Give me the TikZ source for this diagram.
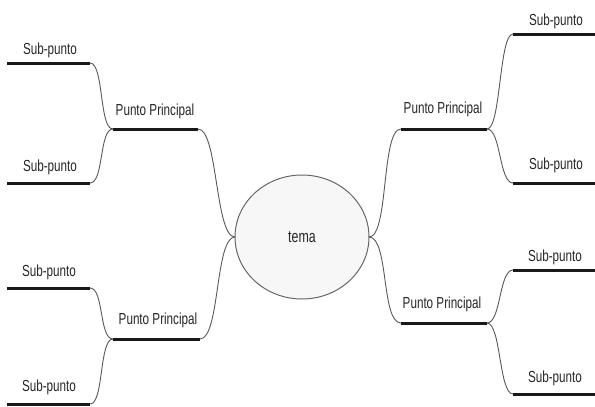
\documentclass[tikz,border=0pt]{standalone}
\usepackage{fontspec}
\setmainfont[FakeStretch=0.73]{Liberation Sans}
\usetikzlibrary{shapes.geometric}
\begin{document}
\begin{tikzpicture}[x=1pt,y=-1pt,
  lbl/.style={text=black!85,font=\fontsize{16}{18}\selectfont,inner sep=0pt},
  bar/.style={line width=3pt,black!90},
  conn/.style={line width=0.9pt,black!65},
  topic/.style={ellipse,draw=black!60,line width=1pt,fill=black!3,minimum width=134pt,minimum height=124pt,inner sep=0pt,font=\fontsize{17}{18}\selectfont,text=black!85}]
\useasboundingbox (0,0) rectangle (595,407);
% centre
\node[topic] (tema) at (302,237) {tema};
\coordinate (tL) at (235,237);
\coordinate (tR) at (369,237);
% left top
\coordinate (LTa) at (113,129); \coordinate (LTb) at (198,129);
\coordinate (LT1a) at (7,63);   \coordinate (LT1b) at (90,63);
\coordinate (LT2a) at (7,183);  \coordinate (LT2b) at (90,183);
% left bottom
\coordinate (LBa) at (113,339); \coordinate (LBb) at (200,339);
\coordinate (LB1a) at (7,288);  \coordinate (LB1b) at (90,288);
\coordinate (LB2a) at (7,404);  \coordinate (LB2b) at (90,404);
% right top
\coordinate (RTa) at (401,129); \coordinate (RTb) at (487,129);
\coordinate (RT1a) at (513,34); \coordinate (RT1b) at (595,34);
\coordinate (RT2a) at (513,183);\coordinate (RT2b) at (595,183);
% right bottom
\coordinate (RBa) at (401,323); \coordinate (RBb) at (487,323);
\coordinate (RB1a) at (513,270);\coordinate (RB1b) at (595,270);
\coordinate (RB2a) at (513,394);\coordinate (RB2b) at (595,394);
% bars
\foreach \a/\b in {LTa/LTb,LT1a/LT1b,LT2a/LT2b,LBa/LBb,LB1a/LB1b,LB2a/LB2b,RTa/RTb,RT1a/RT1b,RT2a/RT2b,RBa/RBb,RB1a/RB1b,RB2a/RB2b}
  \draw[bar] (\a) -- (\b);
% labels
\node[lbl] (lt)  at (155,111) {Punto Principal};
\node[lbl] (lt1) at (50,50)   {Sub-punto};
\node[lbl] (lt2) at (50,167)  {Sub-punto};
\node[lbl] (lb)  at (158,320) {Punto Principal};
\node[lbl] (lb1) at (49,272)  {Sub-punto};
\node[lbl] (lb2) at (49,387)  {Sub-punto};
\node[lbl] (rt)  at (443,109) {Punto Principal};
\node[lbl] (rt1) at (556,21)  {Sub-punto};
\node[lbl] (rt2) at (556,165) {Sub-punto};
\node[lbl] (rb)  at (442,304) {Punto Principal};
\node[lbl] (rb1) at (555,257) {Sub-punto};
\node[lbl] (rb2) at (555,378) {Sub-punto};
% connectors
\draw[conn] (tL) .. controls +(-20,0) and +(20,0) .. (LTb);
\draw[conn] (tL) .. controls +(-20,0) and +(20,0) .. (LBb);
\draw[conn] (tR) .. controls +(20,0) and +(-20,0) .. (RTa);
\draw[conn] (tR) .. controls +(20,0) and +(-20,0) .. (RBa);
\draw[conn] (LTa) .. controls +(-14,0) and +(14,0) .. (LT1b);
\draw[conn] (LTa) .. controls +(-14,0) and +(14,0) .. (LT2b);
\draw[conn] (LBa) .. controls +(-14,0) and +(14,0) .. (LB1b);
\draw[conn] (LBa) .. controls +(-14,0) and +(14,0) .. (LB2b);
\draw[conn] (RTb) .. controls +(14,0) and +(-14,0) .. (RT1a);
\draw[conn] (RTb) .. controls +(14,0) and +(-14,0) .. (RT2a);
\draw[conn] (RBb) .. controls +(14,0) and +(-14,0) .. (RB1a);
\draw[conn] (RBb) .. controls +(14,0) and +(-14,0) .. (RB2a);
\end{tikzpicture}
\end{document}
